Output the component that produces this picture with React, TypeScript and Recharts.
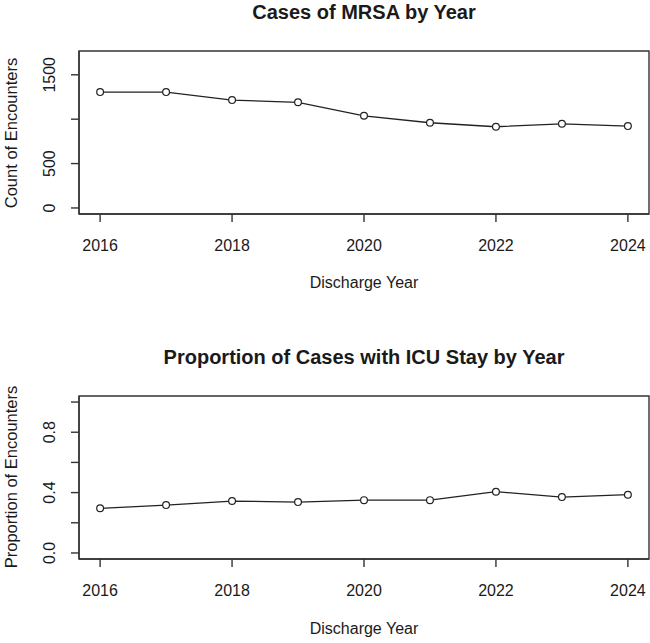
import { LineChart, Line, XAxis, YAxis, ReferenceArea } from "recharts"

const years = [2016, 2017, 2018, 2019, 2020, 2021, 2022, 2023, 2024]
const mrsaCounts = [1305, 1305, 1215, 1190, 1038, 960, 915, 948, 922]
const icuProportions = [0.296, 0.317, 0.344, 0.337, 0.35, 0.35, 0.406, 0.37, 0.386]

const yearTicks = [2016, 2018, 2020, 2022, 2024]
const countTicks = [0, 500, 1000, 1500]
const countLabels = [0, 500, 1500]
const propTicks = [0, 0.2, 0.4, 0.6, 0.8, 1.0]
const propLabels = ["0.0", "0.4", "0.8"]

const FONT = "'Liberation Sans', Arial, sans-serif"
const INK = "#1a1a1a"
const BOX = "#333"
const X_DOMAIN: [number, number] = [2015.68, 2024.32]

const mrsaData = years.map((year, i) => ({ year, value: mrsaCounts[i] }))
const icuData = years.map((year, i) => ({ year, value: icuProportions[i] }))

function XTick(props: any) {
  const { x, y, payload } = props
  return (
    <text x={x} y={y + 29} textAnchor="middle" fontSize={16} fill={INK} fontFamily={FONT}>
      {payload.value}
    </text>
  )
}

function makeYTick(format: (v: number) => string, shown: string[]) {
  return function YTick(props: any) {
    const { x, y, payload } = props
    const label = format(payload.value)
    if (!shown.includes(label)) return <g />
    const bx = x - 16
    return (
      <text
        x={bx}
        y={y}
        transform={`rotate(-90 ${bx} ${y})`}
        textAnchor="middle"
        fontSize={16}
        fill={INK}
        fontFamily={FONT}
      >
        {label}
      </text>
    )
  }
}

interface PanelProps {
  data: { year: number; value: number }[]
  height: number
  top: number
  yDomain: [number, number]
  yTicks: number[]
  yTick: (props: any) => any
}

function Panel({ data, height, top, yDomain, yTicks, yTick }: PanelProps) {
  const axisStroke = { stroke: BOX, strokeWidth: 1.4 }
  return (
    <LineChart width={650} height={height} data={data} margin={{ top, right: 1, left: 0, bottom: 0 }}>
      <XAxis
        dataKey="year"
        type="number"
        domain={X_DOMAIN}
        ticks={yearTicks}
        allowDataOverflow
        height={height - top - 163}
        tickSize={8}
        tickMargin={0}
        axisLine={axisStroke}
        tickLine={axisStroke}
        tick={XTick}
      />
      <YAxis
        type="number"
        domain={yDomain}
        ticks={yTicks}
        allowDataOverflow
        width={79}
        tickSize={8}
        tickMargin={0}
        axisLine={axisStroke}
        tickLine={axisStroke}
        tick={yTick}
      />
      {/* plot frame, like R's box() */}
      <ReferenceArea
        x1={X_DOMAIN[0]}
        x2={X_DOMAIN[1]}
        y1={yDomain[0]}
        y2={yDomain[1]}
        fill="none"
        stroke={BOX}
        strokeWidth={1.4}
        ifOverflow="visible"
      />
      <Line
        dataKey="value"
        stroke="#222"
        strokeWidth={1.3}
        dot={{ r: 3.4, fill: "#fff", stroke: "#222", strokeWidth: 1.2 }}
        isAnimationActive={false}
      />
    </LineChart>
  )
}

export default function App() {
  const textStyle = { fontFamily: FONT, fill: INK }
  return (
    <div style={{ position: "absolute", left: 0, top: 0, width: 650, height: 643, background: "#fff" }}>
      <div style={{ position: "absolute", left: 0, top: 0 }}>
        <Panel
          data={mrsaData}
          height={320}
          top={51}
          yDomain={[-68, 1768]}
          yTicks={countTicks}
          yTick={makeYTick((v) => String(v), countLabels.map(String))}
        />
      </div>
      <div style={{ position: "absolute", left: 0, top: 320 }}>
        <Panel
          data={icuData}
          height={323}
          top={76}
          yDomain={[-0.04, 1.04]}
          yTicks={propTicks}
          yTick={makeYTick((v) => v.toFixed(1), propLabels)}
        />
      </div>
      <svg width={650} height={643} style={{ position: "absolute", left: 0, top: 0, pointerEvents: "none" }}>
        <text x={364} y={19} textAnchor="middle" fontSize={20} fontWeight="bold" {...textStyle}>
          Cases of MRSA by Year
        </text>
        <text x={364} y={288} textAnchor="middle" fontSize={16} {...textStyle}>
          Discharge Year
        </text>
        <text x={17} y={133} textAnchor="middle" fontSize={16.5} transform="rotate(-90 17 133)" {...textStyle}>
          Count of Encounters
        </text>
        <text x={364} y={364} textAnchor="middle" fontSize={20} fontWeight="bold" {...textStyle}>
          Proportion of Cases with ICU Stay by Year
        </text>
        <text x={364} y={634} textAnchor="middle" fontSize={16} {...textStyle}>
          Discharge Year
        </text>
        <text x={17} y={477} textAnchor="middle" fontSize={16.5} transform="rotate(-90 17 477)" {...textStyle}>
          Proportion of Encounters
        </text>
      </svg>
    </div>
  )
}
